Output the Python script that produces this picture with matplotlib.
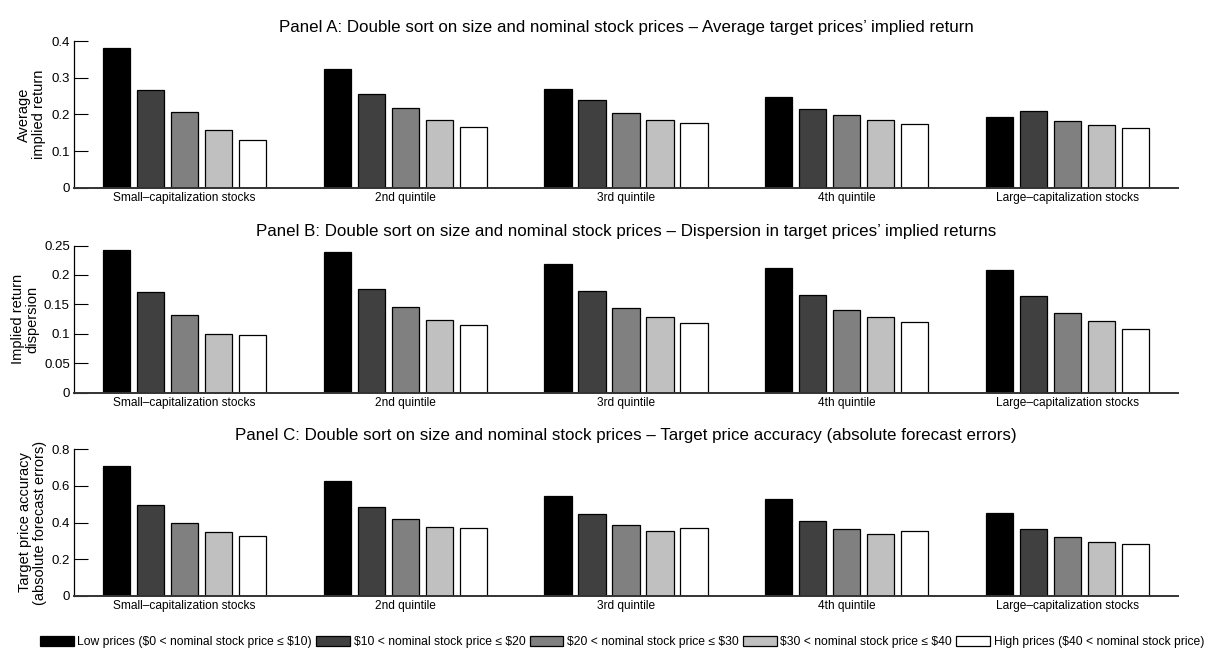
import numpy as np
import matplotlib
matplotlib.use('Agg')
import matplotlib.pyplot as plt
from matplotlib.ticker import FuncFormatter

plt.rcParams['font.family'] = ['Liberation Sans', 'DejaVu Sans']

# size quintiles (groups)
groups = ['Small–capitalization stocks', '2nd quintile', '3rd quintile',
          '4th quintile', 'Large–capitalization stocks']

# price buckets (series)
price_labels = [r'Low prices (\$0 < nominal stock price ≤ \$10)',
                r'\$10 < nominal stock price ≤ \$20',
                r'\$20 < nominal stock price ≤ \$30',
                r'\$30 < nominal stock price ≤ \$40',
                r'High prices (\$40 < nominal stock price)']
price_colors = ['#000000', '#404040', '#808080', '#c0c0c0', '#ffffff']

# Panel A: average implied return, rows = size group, cols = price bucket
implied_return = [
    [0.380, 0.268, 0.208, 0.157, 0.131],
    [0.325, 0.256, 0.217, 0.184, 0.165],
    [0.269, 0.239, 0.203, 0.185, 0.176],
    [0.248, 0.215, 0.198, 0.184, 0.174],
    [0.194, 0.210, 0.182, 0.171, 0.162],
]

# Panel B: dispersion in implied returns
return_dispersion = [
    [0.242, 0.171, 0.131, 0.0995, 0.097],
    [0.239, 0.176, 0.146, 0.123, 0.114],
    [0.218, 0.173, 0.144, 0.128, 0.118],
    [0.211, 0.166, 0.140, 0.128, 0.120],
    [0.209, 0.164, 0.135, 0.121, 0.108],
]

# Panel C: absolute forecast errors
forecast_errors = [
    [0.708, 0.494, 0.396, 0.347, 0.328],
    [0.628, 0.484, 0.419, 0.377, 0.368],
    [0.544, 0.446, 0.385, 0.356, 0.368],
    [0.528, 0.408, 0.363, 0.337, 0.354],
    [0.453, 0.363, 0.319, 0.292, 0.285],
]

panels = [
    ('Panel A: Double sort on size and nominal stock prices – Average target prices’ implied return',
     'Average\nimplied return', implied_return, [0, 0.1, 0.2, 0.3, 0.4], -0.0254),
    ('Panel B: Double sort on size and nominal stock prices – Dispersion in target prices’ implied returns',
     'Implied return\ndispersion', return_dispersion, [0, 0.05, 0.1, 0.15, 0.2, 0.25], -0.031),
    ('Panel C: Double sort on size and nominal stock prices – Target price accuracy (absolute forecast errors)',
     'Target price accuracy\n(absolute forecast errors)', forecast_errors, [0, 0.2, 0.4, 0.6, 0.8], -0.0245),
]

fig = plt.figure(figsize=(12.18, 6.5), dpi=100)
left, width = 74 / 1218, 1104 / 1218
bottoms = [1 - 188 / 650, 1 - 392.5 / 650, 1 - 596 / 650]
height = 147 / 650

n_groups = len(groups)
n_series = len(price_labels)
step = min(0.8, n_series / (n_series + 1.5)) / n_series
bar_w = 0.8 * step
x = np.arange(1, n_groups + 1)

handles = []
for (title, ylabel, data, yticks, lab_x), bottom in zip(panels, bottoms):
    ax = fig.add_axes([left, bottom, width, height])
    vals = np.array(data)
    for j in range(n_series):
        bars = ax.bar(x + (j - 2) * step, vals[:, j], width=bar_w,
                      color=price_colors[j], edgecolor='black', linewidth=0.9,
                      label=price_labels[j], zorder=2)
        if len(handles) < n_series:
            handles.append(bars)
    ax.set_xlim(0.5, 5.5)
    ax.set_ylim(yticks[0], yticks[-1])
    ax.set_yticks(yticks)
    ax.yaxis.set_major_formatter(FuncFormatter(lambda v, p: '%g' % v))
    ax.set_xticks(x)
    ax.set_xticklabels(groups, fontsize=8.6)
    ax.tick_params(axis='x', length=0, pad=3)
    ax.tick_params(axis='y', direction='in', length=10, width=0.8, labelsize=9.5, pad=3)
    for s in ['top', 'right']:
        ax.spines[s].set_visible(False)
    ax.spines['left'].set_linewidth(0.9)
    ax.spines['bottom'].set_linewidth(1.4)
    ax.spines['bottom'].set_color('#333333')
    ax.spines['bottom'].set_zorder(3)
    ax.set_title(title, fontsize=12.2, pad=6.5)
    ax.set_ylabel(ylabel, fontsize=10.5, linespacing=1.05)
    ax.yaxis.set_label_coords(lab_x, 0.5)

fig.legend(handles, price_labels, loc='center', bbox_to_anchor=(622 / 1218, 1 - 642 / 650),
           ncol=5, frameon=False, fontsize=8.7, handlelength=2.8, handleheight=0.85,
           handletextpad=0.3, columnspacing=0.35, borderpad=0)

fig.savefig('out.png', dpi=100)
